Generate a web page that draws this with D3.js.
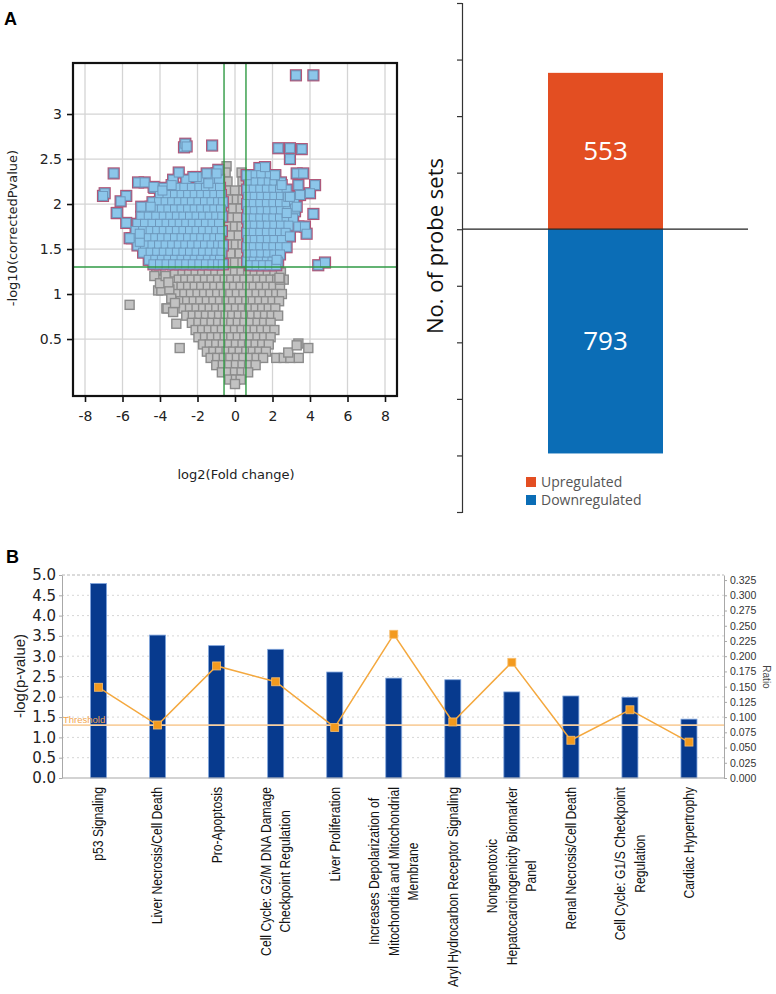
<!DOCTYPE html>
<html>
<head>
<meta charset="utf-8">
<script src="https://cdn.jsdelivr.net/npm/d3@7"></script>
<style>
  body { margin: 0; background: #fff; }
  svg { display: block; }
</style>
</head>
<body>
<div id="chart"></div>
<script>
// ---------- Panel A, volcano plot ----------
// rows of [y, [x, x, ...]] for the dense clouds, plus single outliers
const upLeftRows = [
  [2.27, [-3.3, -2.6, -1.9, -1.3, -0.85]],
  [2.18, [-4.3, -3.8, -3.1, -2.7, -2.3, -1.9, -1.55, -1.15, -0.8]],
  [2.10, [-4.0, -3.6, -3.2, -2.85, -2.5, -2.15, -1.8, -1.45, -1.1, -0.75]],
  [2.02, [-4.4, -4.05, -3.7, -3.35, -3.0, -2.65, -2.3, -1.95, -1.6, -1.25, -0.9, -0.65]],
  [1.94, [-4.8, -4.3, -3.9, -3.55, -3.2, -2.85, -2.5, -2.15, -1.8, -1.45, -1.1, -0.75]],
  [1.86, [-5.0, -4.6, -4.2, -3.8, -3.45, -3.1, -2.75, -2.4, -2.05, -1.7, -1.35, -1.0, -0.68]],
  [1.78, [-5.2, -4.8, -4.4, -4.0, -3.65, -3.3, -2.95, -2.6, -2.25, -1.9, -1.55, -1.2, -0.85]],
  [1.70, [-5.3, -4.9, -4.5, -4.15, -3.8, -3.45, -3.1, -2.75, -2.4, -2.05, -1.7, -1.35, -1.0, -0.7]],
  [1.62, [-5.5, -5.0, -4.6, -4.25, -3.9, -3.55, -3.2, -2.85, -2.5, -2.15, -1.8, -1.45, -1.1, -0.8]],
  [1.54, [-5.2, -4.8, -4.4, -4.05, -3.7, -3.35, -3.0, -2.65, -2.3, -1.95, -1.6, -1.25, -0.9, -0.65]],
  [1.46, [-4.9, -4.5, -4.15, -3.8, -3.45, -3.1, -2.75, -2.4, -2.05, -1.7, -1.35, -1.0, -0.72]],
  [1.38, [-4.6, -4.25, -3.9, -3.55, -3.2, -2.85, -2.5, -2.15, -1.8, -1.45, -1.1, -0.8]],
  [1.33, [-4.35, -4.0, -3.65, -3.3, -2.95, -2.6, -2.25, -1.9, -1.55, -1.2, -0.9, -0.65]]
];
const upRightRows = [
  [2.40, [1.3, 1.6]],
  [2.32, [0.65, 1.0, 1.4, 1.85, 2.15]],
  [2.24, [0.75, 1.1, 1.45, 1.8, 2.1, 2.45]],
  [2.16, [0.65, 1.0, 1.35, 1.7, 2.05, 2.4, 2.75]],
  [2.08, [0.7, 1.05, 1.4, 1.75, 2.1, 2.45, 2.8, 3.1]],
  [2.00, [0.65, 1.0, 1.35, 1.7, 2.05, 2.4, 2.75, 3.15]],
  [1.92, [0.7, 1.05, 1.4, 1.75, 2.1, 2.45, 2.8, 3.2]],
  [1.84, [0.65, 1.0, 1.35, 1.7, 2.05, 2.4, 2.75, 3.1]],
  [1.76, [0.7, 1.05, 1.4, 1.75, 2.1, 2.45, 2.85]],
  [1.68, [0.65, 1.0, 1.35, 1.7, 2.05, 2.4, 2.7]],
  [1.60, [0.7, 1.05, 1.4, 1.75, 2.1, 2.5]],
  [1.52, [0.65, 1.0, 1.35, 1.7, 2.05, 2.4, 2.75]],
  [1.44, [0.7, 1.05, 1.4, 1.75, 2.1, 2.4]],
  [1.36, [0.65, 1.0, 1.35, 1.7, 2.0, 2.3]],
  [1.32, [0.8, 1.15, 1.5, 1.85, 2.2]]
];
const upOutliers = [
  [-2.72, 2.63], [-2.65, 2.67], [-1.22, 2.65], [-2.58, 2.64], [-6.47, 2.34],
  [-6.95, 2.12], [-7.04, 2.09], [-5.8, 2.09], [-6.1, 2.03], [-6.28, 1.90],
  [-5.8, 1.79], [-5.17, 2.24], [-4.82, 2.24], [-4.34, 2.19], [-3.87, 2.15],
  [-3.38, 2.21], [-3.0, 2.35], [-5.0, 1.97], [-4.5, 1.97], [-5.62, 1.62],
  [-5.08, 1.58], [-5.08, 1.67], [-2.04, 2.30], [-1.42, 2.23], [-0.89, 2.38],
  [-0.98, 2.34], [-1.51, 2.34], [-2.22, 2.30], [-6.31, 1.90],
  [3.25, 3.43], [4.18, 3.43], [2.31, 2.62], [2.93, 2.62], [3.56, 2.61],
  [2.93, 2.50], [3.29, 2.34], [3.64, 2.34], [3.38, 2.21], [4.27, 2.21],
  [4.0, 2.12], [3.47, 2.10], [2.84, 2.08], [3.2, 1.95], [2.76, 1.90],
  [4.18, 1.89], [3.38, 1.75], [3.73, 1.75], [3.82, 1.67], [2.93, 1.64],
  [4.44, 1.32], [4.8, 1.35], [1.6, 2.41], [2.13, 2.32], [2.49, 2.21],
  [0.62, 2.32], [2.22, 1.38], [3.29, 1.97], [2.93, 2.08]
];
const grayRows = [
  [2.42, [-0.45]],
  [2.35, [-0.5, 0.35]],
  [2.25, [-0.4, 0.4]],
  [2.15, [-0.45, 0.0, 0.45]],
  [2.05, [-0.35, 0.1, 0.4]],
  [1.95, [-0.45, -0.1, 0.3]],
  [1.85, [-0.3, 0.15]],
  [1.75, [-0.4, 0.0, 0.35]],
  [1.65, [-0.2, 0.2]],
  [1.55, [-0.4, 0.05, 0.4]],
  [1.45, [-0.25, 0.25]],
  [1.35, [-0.45, 0.0, 0.4]],
  [1.24, [-3.2, -2.8, -2.45, -2.1, -1.75, -1.4, -1.05, -0.7, -0.35, 0.0, 0.35, 0.7, 1.05, 1.4, 1.75, 2.1, 2.45]],
  [1.16, [-3.0, -2.65, -2.3, -1.95, -1.6, -1.25, -0.9, -0.55, -0.2, 0.15, 0.5, 0.85, 1.2, 1.55, 1.9, 2.25, 2.6]],
  [1.08, [-3.3, -2.85, -2.5, -2.15, -1.8, -1.45, -1.1, -0.75, -0.4, -0.05, 0.3, 0.65, 1.0, 1.35, 1.7, 2.05, 2.4]],
  [1.00, [-3.05, -2.7, -2.35, -2.0, -1.65, -1.3, -0.95, -0.6, -0.25, 0.1, 0.45, 0.8, 1.15, 1.5, 1.85, 2.2, 2.5]],
  [0.92, [-2.9, -2.55, -2.2, -1.85, -1.5, -1.15, -0.8, -0.45, -0.1, 0.25, 0.6, 0.95, 1.3, 1.65, 2.0, 2.35]],
  [0.84, [-2.75, -2.4, -2.05, -1.7, -1.35, -1.0, -0.65, -0.3, 0.05, 0.4, 0.75, 1.1, 1.45, 1.8, 2.15]],
  [0.76, [-2.6, -2.25, -1.9, -1.55, -1.2, -0.85, -0.5, -0.15, 0.2, 0.55, 0.9, 1.25, 1.6, 1.95, 2.3]],
  [0.68, [-2.3, -1.95, -1.6, -1.25, -0.9, -0.55, -0.2, 0.15, 0.5, 0.85, 1.2, 1.55, 1.9]],
  [0.60, [-2.1, -1.75, -1.4, -1.05, -0.7, -0.35, 0.0, 0.35, 0.7, 1.05, 1.4, 1.75, 2.1]],
  [0.52, [-1.95, -1.6, -1.25, -0.9, -0.55, -0.2, 0.15, 0.5, 0.85, 1.2, 1.55, 1.9]],
  [0.44, [-1.7, -1.35, -1.0, -0.65, -0.3, 0.05, 0.4, 0.75, 1.1, 1.45, 1.8]],
  [0.36, [-1.5, -1.15, -0.8, -0.45, -0.1, 0.25, 0.6, 0.95, 1.3, 1.65]],
  [0.29, [-1.3, -0.95, -0.6, -0.25, 0.1, 0.45, 0.8, 1.15, 1.5, 2.2, 2.6, 2.95, 3.4]],
  [0.21, [-1.0, -0.65, -0.3, 0.05, 0.4, 0.75, 1.1]],
  [0.13, [-0.7, -0.35, 0.0, 0.35, 0.7]],
  [0.05, [-0.3, 0.05, 0.3]],
  [0.00, [0.0]]
];
const grayOutliers = [
  [-5.62, 0.88], [-2.95, 0.40], [-4.1, 1.04], [-3.93, 1.04], [-3.66, 0.84],
  [-3.13, 0.67], [-4.2, 1.27], [-3.9, 1.16], [-3.6, 0.84], [3.38, 0.45],
  [3.91, 0.40], [2.4, 1.16], [2.37, 1.18], [2.84, 0.35], [3.29, 0.43],
  [-4.3, 1.2], [-4.0, 1.12], [-3.7, 1.2], [-3.5, 1.05], [-3.4, 0.95],
  [-3.3, 0.8], [-3.2, 0.9], [-3.55, 1.13]
];
const volcanoXTicks = [-8, -6, -4, -2, 0, 2, 4, 6, 8];
const volcanoYTicks = [0.5, 1, 1.5, 2, 2.5, 3];
const foldCut = 0.585;   // log2(1.5)
const pCut = 1.301;      // -log10(0.05)

// ---------- Panel A, probe set counts ----------
const regNames = ["Upregulated", "Downregulated"];
const regCounts = [553, -793];
const probeTicks = [-1000, -800, -600, -400, -200, 0, 200, 400, 600, 800];

// ---------- Panel B, pathways ----------
const pathways = [
  "p53 Signaling",
  "Liver Necrosis/Cell Death",
  "Pro-Apoptosis",
  "Cell Cycle: G2/M DNA Damage\nCheckpoint Regulation",
  "Liver Proliferation",
  "Increases Depolarization of\nMitochondria and Mitochondrial\nMembrane",
  "Aryl Hydrocarbon Receptor Signaling",
  "Nongenotoxic\nHepatocarcinogenicity Biomarker\nPanel",
  "Renal Necrosis/Cell Death",
  "Cell Cycle: G1/S Checkpoint\nRegulation",
  "Cardiac Hypertrophy"
];
const logP = [4.79, 3.52, 3.26, 3.17, 2.61, 2.46, 2.42, 2.12, 2.02, 1.99, 1.45];
const ratio = [0.149, 0.087, 0.184, 0.158, 0.083, 0.236, 0.092, 0.190, 0.062, 0.112, 0.059];
const logPTicks = [0, 0.5, 1, 1.5, 2, 2.5, 3, 3.5, 4, 4.5, 5];
const ratioTicks = [0, 0.025, 0.05, 0.075, 0.1, 0.125, 0.15, 0.175, 0.2, 0.225, 0.25, 0.275, 0.3, 0.325];
const threshold = 1.3;

const rowsToPoints = rows => rows.flatMap(r => r[1].map(x => [x, r[0]]));
const upPoints = rowsToPoints(upLeftRows).concat(rowsToPoints(upRightRows), upOutliers);
const grayPoints = rowsToPoints(grayRows).concat(grayOutliers);

const svg = d3.select("#chart")
  .append("svg")
  .attr("width", 776)
  .attr("height", 994);

// panel letters
svg.append("text").attr("x", 4).attr("y", 25).text("A")
  .style("font-family", "Liberation Sans, Arial, sans-serif").style("font-weight", "bold").style("font-size", "18px");
svg.append("text").attr("x", 6).attr("y", 563).text("B")
  .style("font-family", "Liberation Sans, Arial, sans-serif").style("font-weight", "bold").style("font-size", "18px");

// ================= volcano =================
const vx = d3.scaleLinear().domain([-8.64, 8.64]).range([73, 397]);
const vy = d3.scaleLinear().domain([-0.133, 3.567]).range([396, 63]);
const vol = svg.append("g");
const sq = 9;

vol.selectAll(".gx").data(volcanoXTicks).enter().append("line")
  .attr("x1", d => vx(d)).attr("x2", d => vx(d)).attr("y1", 63).attr("y2", 396)
  .attr("stroke", "#d4d4d4").attr("stroke-width", 1.3);
vol.selectAll(".gy").data(volcanoYTicks).enter().append("line")
  .attr("x1", 73).attr("x2", 397).attr("y1", d => vy(d)).attr("y2", d => vy(d))
  .attr("stroke", "#d4d4d4").attr("stroke-width", 1.3);

// gray (not significant)
vol.selectAll(".ns").data(grayPoints).enter().append("rect")
  .attr("x", d => vx(d[0]) - sq / 2).attr("y", d => vy(d[1]) - sq / 2)
  .attr("width", sq).attr("height", sq)
  .attr("fill", "#c2c2c2").attr("stroke", "#8b8b8b").attr("stroke-width", 1.4);

// significant: pink halo first, then the blue squares
vol.selectAll(".halo").data(upPoints).enter().append("rect")
  .attr("x", d => vx(d[0]) - sq / 2).attr("y", d => vy(d[1]) - sq / 2)
  .attr("width", sq).attr("height", sq)
  .attr("fill", "#a8476b").attr("stroke", "#b05678").attr("stroke-width", 3.2);
vol.selectAll(".sig").data(upPoints).enter().append("rect")
  .attr("x", d => vx(d[0]) - sq / 2).attr("y", d => vy(d[1]) - sq / 2)
  .attr("width", sq).attr("height", sq)
  .attr("fill", "#8cc6ea").attr("stroke", "#6d98bd").attr("stroke-width", 1);

// cut-off lines
[-foldCut, foldCut].forEach(c => {
  vol.append("line").attr("x1", vx(c)).attr("x2", vx(c)).attr("y1", 63).attr("y2", 396)
    .attr("stroke", "#2f9a44").attr("stroke-width", 1.4);
});
vol.append("line").attr("x1", 73).attr("x2", 397).attr("y1", vy(pCut)).attr("y2", vy(pCut))
  .attr("stroke", "#2f9a44").attr("stroke-width", 1.4);

vol.append("rect").attr("x", 73).attr("y", 63).attr("width", 324).attr("height", 333)
  .attr("fill", "none").attr("stroke", "#111").attr("stroke-width", 2.2);

const vAxisY = vol.append("g").attr("transform", "translate(73,0)")
  .call(d3.axisLeft(vy).tickValues(volcanoYTicks).tickFormat(d => String(d)).tickSize(6).tickPadding(5));
const vAxisX = vol.append("g").attr("transform", "translate(0,396)")
  .call(d3.axisBottom(vx).tickValues(volcanoXTicks).tickFormat(d => String(d)).tickSize(6).tickPadding(9));
[vAxisY, vAxisX].forEach(a => {
  a.select(".domain").remove();
  a.selectAll("line").attr("stroke", "#111").attr("stroke-width", 1.6);
  a.selectAll("text").style("font-family", "DejaVu Sans, sans-serif").style("font-size", "14px").attr("fill", "#222");
});

vol.append("text").attr("transform", "translate(17,228) rotate(-90)").attr("text-anchor", "middle")
  .style("font-family", "DejaVu Sans, sans-serif").style("font-size", "13px").attr("fill", "#222")
  .text("-log10(correctedPvalue)");
vol.append("text").attr("x", 236).attr("y", 479).attr("text-anchor", "middle")
  .style("font-family", "DejaVu Sans, sans-serif").style("font-size", "13px").attr("fill", "#222")
  .text("log2(Fold change)");

// ================= probe set counts =================
const regColors = ["#e34e22", "#0b6db6"];
const by = d3.scaleLinear().domain([-1000, 800]).range([512, 3]);
const bx = d3.scaleBand().domain(["probe sets"]).range([548, 663]);
const cnt = svg.append("g");

cnt.selectAll(".reg").data(regCounts).enter().append("rect")
  .attr("x", bx("probe sets")).attr("width", bx.bandwidth())
  .attr("y", d => by(Math.max(0, d))).attr("height", d => Math.abs(by(d) - by(0)))
  .attr("fill", (d, i) => regColors[i]);
cnt.selectAll(".regLab").data(regCounts).enter().append("text")
  .attr("x", bx("probe sets") + bx.bandwidth() / 2)
  .attr("y", d => by(d / 2) + 9)
  .attr("text-anchor", "middle").attr("fill", "#fff")
  .style("font-family", "Open Sans, sans-serif").style("font-size", "26px")
  .text(d => Math.abs(d));

cnt.append("line").attr("x1", 462).attr("x2", 748).attr("y1", by(0)).attr("y2", by(0))
  .attr("stroke", "#222").attr("stroke-width", 1.2);
const cAxis = cnt.append("g").attr("transform", "translate(462,0)")
  .call(d3.axisLeft(by).tickValues(probeTicks).tickFormat("").tickSize(5).tickSizeOuter(5));
cAxis.selectAll("path, line").attr("stroke", "#333").attr("stroke-width", 1.2);

cnt.append("text").attr("transform", "translate(443,246) rotate(-90)").attr("text-anchor", "middle")
  .style("font-family", "Open Sans, sans-serif").style("font-size", "22px").attr("fill", "#111")
  .text("No. of probe sets");

const leg = cnt.selectAll(".leg").data(regNames).enter().append("g")
  .attr("transform", (d, i) => `translate(526,${477 + i * 18})`);
leg.append("rect").attr("width", 10).attr("height", 10).attr("fill", (d, i) => regColors[i]);
leg.append("text").attr("x", 15).attr("y", 10)
  .style("font-family", "Open Sans, sans-serif").style("font-size", "14px").attr("fill", "#555")
  .text(d => d);

// ================= panel B =================
const px = d3.scaleBand().domain(pathways).range([69, 718.5]);
const ly = d3.scaleLinear().domain([0, 5]).range([778, 575]);
const ry = d3.scaleLinear().domain([0, 1 / 3]).range([778, 575]);
const pb = svg.append("g");

pb.selectAll(".grid").data(logPTicks.slice(1, -1)).enter().append("line")
  .attr("x1", 62).attr("x2", 724).attr("y1", d => ly(d)).attr("y2", d => ly(d))
  .attr("stroke", "#d6d6d6").attr("stroke-dasharray", "2,3");
pb.append("line").attr("x1", 62).attr("x2", 724).attr("y1", ly(5)).attr("y2", ly(5))
  .attr("stroke", "#b8b8b8").attr("stroke-dasharray", "3,2").attr("stroke-width", 1.2);

pb.selectAll(".bar").data(logP).enter().append("rect")
  .attr("x", (d, i) => px(pathways[i]) + px.bandwidth() / 2 - 8).attr("width", 16)
  .attr("y", d => ly(d)).attr("height", d => ly(0) - ly(d))
  .attr("fill", "#073a8e").attr("stroke", "#7fa4dc").attr("stroke-width", 0.8);

pb.append("line").attr("x1", 62).attr("x2", 724).attr("y1", ly(threshold)).attr("y2", ly(threshold))
  .attr("stroke", "#f9d0a0").attr("stroke-width", 1.8);
pb.append("text").attr("x", 63).attr("y", ly(threshold) - 2)
  .style("font-family", "Liberation Sans, Arial, sans-serif").style("font-size", "9.5px").attr("fill", "#f2a650")
  .text("Threshold");

const ratioLine = d3.line()
  .x((d, i) => px(pathways[i]) + px.bandwidth() / 2)
  .y(d => ry(d));
pb.append("path").datum(ratio).attr("d", ratioLine)
  .attr("fill", "none").attr("stroke", "#f4a83e").attr("stroke-width", 1.5);
pb.selectAll(".mk").data(ratio).enter().append("rect")
  .attr("x", (d, i) => px(pathways[i]) + px.bandwidth() / 2 - 4).attr("y", d => ry(d) - 4)
  .attr("width", 8).attr("height", 8)
  .attr("fill", "#f39a1e").attr("stroke", "#f8be6e").attr("stroke-width", 0.8);

const lAxis = pb.append("g").attr("transform", "translate(62,0)")
  .call(d3.axisLeft(ly).tickValues(logPTicks).tickFormat(d3.format(".1f")).tickSize(3).tickSizeOuter(0).tickPadding(3));
lAxis.selectAll("path, line").attr("stroke", "#a8a8a8");
lAxis.selectAll("text").style("font-family", "DejaVu Sans, sans-serif").style("font-size", "15px").attr("fill", "#222");

const rAxis = pb.append("g").attr("transform", "translate(724,0)")
  .call(d3.axisRight(ry).tickValues(ratioTicks).tickFormat(d3.format(".3f")).tickSize(3).tickSizeOuter(0).tickPadding(3));
rAxis.selectAll("path, line").attr("stroke", "#a8a8a8");
rAxis.selectAll("text").style("font-family", "Liberation Sans, Arial, sans-serif").style("font-size", "10.5px").attr("fill", "#333");

pb.append("line").attr("x1", 62).attr("x2", 724).attr("y1", 778).attr("y2", 778)
  .attr("stroke", "#a8a8a8").attr("stroke-width", 1.2);

pb.append("text").attr("transform", "translate(25,676) rotate(-90)").attr("text-anchor", "middle")
  .style("font-family", "Liberation Sans, Arial, sans-serif").style("font-size", "15px").attr("fill", "#222")
  .text("-log(p-value)");
pb.append("text").attr("transform", "translate(763,677) rotate(90)").attr("text-anchor", "middle")
  .style("font-family", "Liberation Sans, Arial, sans-serif").style("font-size", "10px").attr("fill", "#444")
  .text("Ratio");

// rotated category labels: condensed along the text, lines centred on each other,
// block hung from the axis
const labelFont = "Liberation Sans, Arial, sans-serif";
const probe = pb.append("text").style("font-family", labelFont).style("font-size", "14px")
  .text("Aryl Hydrocarbon Receptor Signaling");
const squeeze = 200 / probe.node().getComputedTextLength();
probe.remove();

pathways.forEach(name => {
  const lines = name.split("\n");
  const g = pb.append("g")
    .attr("transform", `translate(${px(name) + px.bandwidth() / 2},787) rotate(-90) scale(${squeeze},1)`);
  const texts = lines.map((ln, i) => g.append("text")
    .attr("y", (i - (lines.length - 1) / 2) * 19.5)
    .attr("dy", "0.35em")
    .attr("text-anchor", "middle")
    .style("font-family", labelFont)
    .style("font-size", "14px").attr("fill", "#111")
    .text(ln));
  const maxLen = d3.max(texts, t => t.node().getComputedTextLength());
  texts.forEach(t => t.attr("x", -maxLen / 2));
});
</script>
</body>
</html>
